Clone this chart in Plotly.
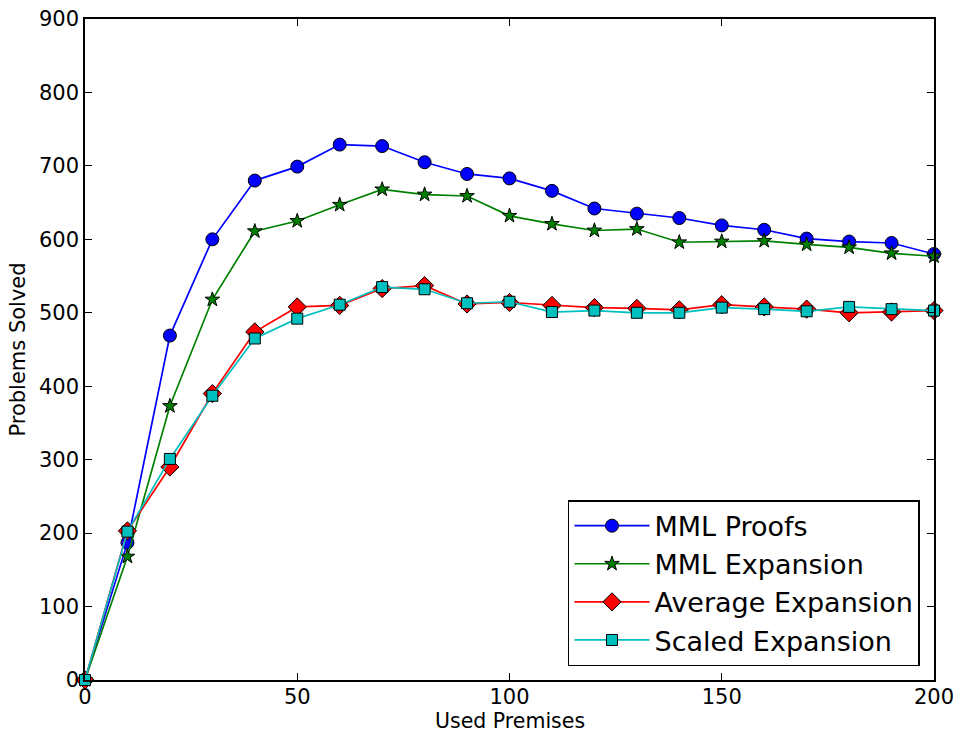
import plotly.graph_objects as go

premises = [0, 10, 20, 30, 40, 50, 60, 70, 80, 90, 100, 110, 120, 130, 140, 150, 160, 170, 180, 190, 200]
mml_proofs = [0, 187, 469, 600, 680, 699, 729, 727, 705, 689, 683, 666, 642, 635, 629, 619, 613, 601, 597, 595, 580]
mml_expansion = [0, 168, 373, 518, 611, 625, 647, 668, 661, 659, 632, 621, 612, 614, 596, 597, 598, 593, 589, 581, 577]
average_expansion = [0, 203, 290, 390, 474, 508, 510, 533, 537, 512, 514, 510, 507, 506, 504, 511, 508, 505, 500, 501, 503]
scaled_expansion = [0, 202, 301, 387, 465, 492, 511, 535, 532, 513, 515, 501, 503, 500, 500, 507, 505, 502, 508, 505, 503]

series = [
    ("MML Proofs", mml_proofs, "#0000ff", "circle", 13),
    ("MML Expansion", mml_expansion, "#008000", "star", 11),
    ("Average Expansion", average_expansion, "#ff0000", "diamond", 14),
    ("Scaled Expansion", scaled_expansion, "#00bfbf", "square", 11),
]

fig = go.Figure()
for name, vals, color, sym, size in series:
    fig.add_trace(go.Scatter(
        x=premises, y=vals, name=name, mode="lines+markers", legendgroup=name,
        line=dict(color=color, width=1.7),
        marker=dict(symbol=sym, size=size, color=color, line=dict(color="black", width=1)),
        cliponaxis=False,
    ))

font = "DejaVu Sans, sans-serif"
axis_common = dict(
    showgrid=False, zeroline=False, showline=True, linecolor="black", linewidth=1.5,
    mirror="ticks", ticks="inside", ticklen=7, tickcolor="black", tickwidth=1,
    tickfont=dict(family=font, size=21, color="black"), automargin=False,
)
fig.update_layout(
    width=958, height=733,
    margin=dict(l=85, r=24, t=19, b=53),
    paper_bgcolor="white", plot_bgcolor="white",
    font=dict(family=font, color="black"),
    xaxis=dict(range=[0, 200], tickvals=[0, 50, 100, 150, 200], ticklabelstandoff=-3,
               **axis_common),
    yaxis=dict(range=[0, 900], tickvals=list(range(0, 901, 100)),
               title=dict(text="Problems Solved", font=dict(family=font, size=21), standoff=8),
               **axis_common),
    legend=dict(x=0.9835, y=0.021, xanchor="right", yanchor="bottom",
                bgcolor="white", bordercolor="black", borderwidth=1.5,
                font=dict(family=font, size=27, color="black"),
                itemwidth=75, tracegroupgap=0),
    annotations=[dict(text="Used Premises", xref="paper", yref="paper", x=0.5, y=-0.042,
                      xanchor="center", yanchor="top", showarrow=False, borderpad=0,
                      font=dict(family=font, size=20.5, color="black"))],
)
fig.write_html("out.html", config={"displayModeBar": False},
               post_script="document.body.style.margin='0';document.body.style.overflow='hidden';")
